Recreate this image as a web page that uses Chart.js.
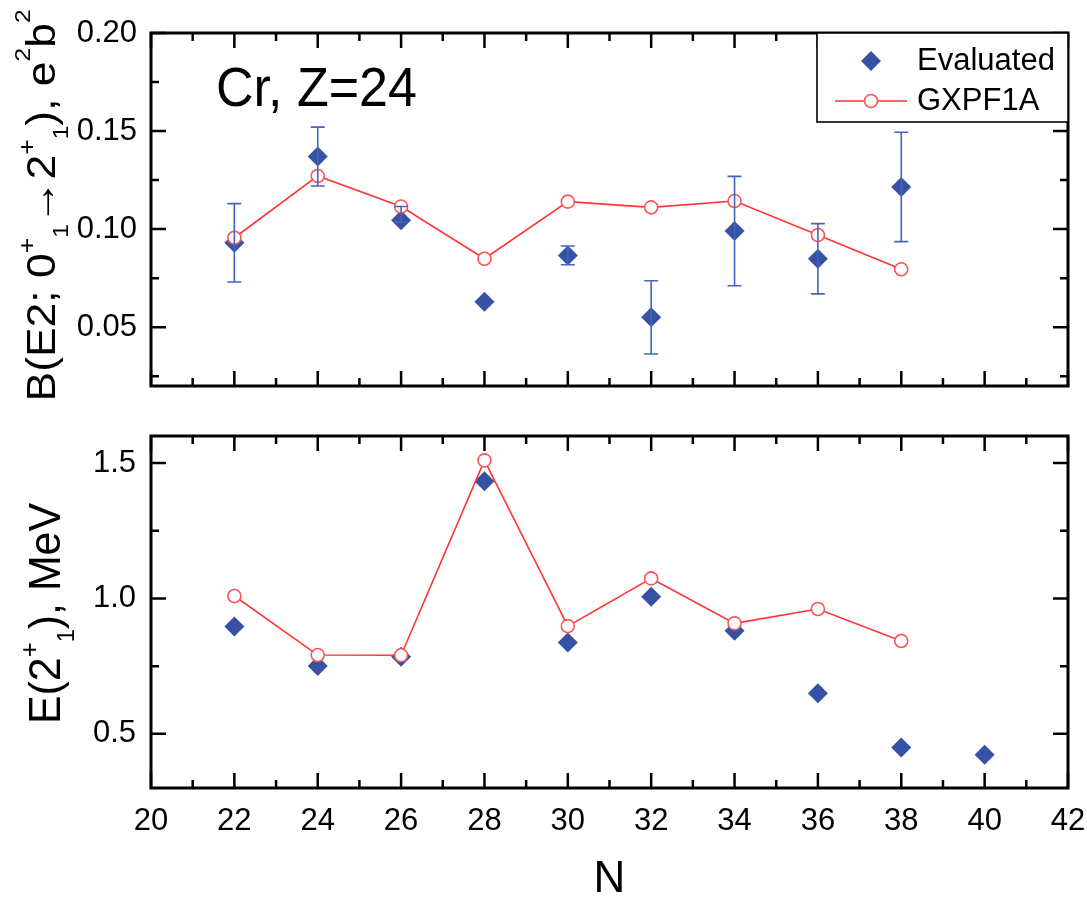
<!DOCTYPE html>
<html><head><meta charset="utf-8">
<script src="https://cdn.jsdelivr.net/npm/chart.js@4.4.0/dist/chart.umd.min.js"></script>
<style>
html,body{margin:0;padding:0;background:#fff;}
#wrap{position:relative;width:1087px;height:899px;overflow:hidden;}
#c1{position:absolute;left:0;top:0;}
#c2{position:absolute;left:0;top:400px;}
</style></head><body>
<div id="wrap"><canvas id="c1" width="1087" height="400"></canvas><canvas id="c2" width="1087" height="499"></canvas></div>
<script>
// ---- data ----
const N_TOP = [22, 24, 26, 28, 30, 32, 34, 36, 38];
const BE2_EVAL   = [0.093, 0.137, 0.1045, 0.063, 0.0866, 0.0550, 0.0990, 0.0849, 0.1215];
const BE2_ERR_UP = [0.020, 0.015, 0.0070, 0.000, 0.0048, 0.0187, 0.0279, 0.0179, 0.0279];
const BE2_ERR_DN = [0.020, 0.015, 0.0010, 0.000, 0.0048, 0.0187, 0.0279, 0.0179, 0.0279];
const BE2_GXPF = [0.0956, 0.1271, 0.1115, 0.0849, 0.1140, 0.1111, 0.1143, 0.0970, 0.0795];
const N_EVAL_E = [22, 24, 26, 28, 30, 32, 34, 36, 38, 40];
const E2_EVAL  = [0.896, 0.751, 0.785, 1.433, 0.837, 1.006, 0.881, 0.650, 0.450, 0.423];
const N_GXPF_E = [22, 24, 26, 28, 30, 32, 34, 36, 38];
const E2_GXPF  = [1.009, 0.791, 0.790, 1.510, 0.898, 1.074, 0.908, 0.961, 0.843];
const X_TICKS = [20, 22, 24, 26, 28, 30, 32, 34, 36, 38, 40, 42];
const X_MINOR = [21, 23, 25, 27, 29, 31, 33, 35, 37, 39, 41];
const TOP_Y_TICKS = [0.05, 0.10, 0.15, 0.20];
const TOP_Y_LABELS = ['0.05', '0.10', '0.15', '0.20'];
const TOP_Y_MINOR = [0.025, 0.075, 0.125, 0.175];
const BOT_Y_TICKS = [0.5, 1.0, 1.5];
const BOT_Y_LABELS = ['0.5', '1.0', '1.5'];
const BOT_Y_MINOR = [0.75, 1.25];
const SERIES_NAMES = ['Evaluated', 'GXPF1A'];

// ---- style ----
const FONT = "'Liberation Sans', Arial, sans-serif";
const BLUE = '#3652a4';
const ERRBLUE = '#4664b8';
const RED = '#ff3434';
const RED2 = '#f95656';
Chart.defaults.color = '#000';
Chart.defaults.font.family = FONT;

function drawRich(ctx, segs, cx, cy, base, targetLen) {
  const ws = segs.map(s => { ctx.font = (base * s[1]) + 'px ' + FONT; return ctx.measureText(s[0]).width + (s[3] || 0) * base; });
  const total = ws.reduce((a, b) => a + b, 0);
  const k = targetLen / total;
  ctx.save();
  ctx.translate(cx, cy);
  ctx.rotate(-Math.PI / 2);
  ctx.scale(k, 1);
  ctx.fillStyle = '#000';
  ctx.textBaseline = 'alphabetic';
  ctx.textAlign = 'left';
  let x = -total / 2;
  segs.forEach((s, i) => {
    ctx.font = (base * s[1]) + 'px ' + FONT;
    ctx.fillText(s[0], x, -s[2] * base);
    x += ws[i];
  });
  ctx.restore();
}

function fixBox(w, h) {
  return s => {
    if (w !== null) s.width = w;
    if (h !== null) s.height = h;
    s.paddingTop = 0; s.paddingBottom = 0; s.paddingLeft = 0; s.paddingRight = 0;
  };
}

const frameTicks = {
  id: 'frameTicks',
  afterDraw(chart, args, o) {
    const {ctx, chartArea: a, scales: {x, y}} = chart;
    ctx.save();
    ctx.strokeStyle = '#000';
    ctx.lineWidth = 2.5;
    ctx.beginPath();
    const xt = (list, len) => list.forEach(v => { const p = x.getPixelForValue(v);
      ctx.moveTo(p, a.bottom); ctx.lineTo(p, a.bottom - len); ctx.moveTo(p, a.top); ctx.lineTo(p, a.top + len); });
    const yt = (list, len) => list.forEach(v => { const p = y.getPixelForValue(v);
      ctx.moveTo(a.left, p); ctx.lineTo(a.left + len, p); ctx.moveTo(a.right, p); ctx.lineTo(a.right - len, p); });
    xt(X_TICKS, 15); xt(X_MINOR, 8);
    yt(o.yMajor, 15); yt(o.yMinor, 8);
    ctx.stroke();
    ctx.lineWidth = 3;
    ctx.strokeRect(a.left, a.top, a.right - a.left, a.bottom - a.top);
    ctx.restore();
  }
};

const yTitle = {
  id: 'yTitle',
  afterDraw(chart, args, o) {
    drawRich(chart.ctx, o.segs, o.cx, o.cy, o.base, o.len);
  }
};

const errorBars = {
  id: 'errorBars',
  afterDatasetsDraw(chart) {
    const {ctx, scales: {x, y}} = chart;
    ctx.save();
    ctx.strokeStyle = ERRBLUE;
    ctx.lineWidth = 1.6;
    ctx.beginPath();
    N_TOP.forEach((n, i) => {
      const eu = BE2_ERR_UP[i], ed = BE2_ERR_DN[i];
      if (!eu && !ed) return;
      const px = x.getPixelForValue(n);
      const p1 = y.getPixelForValue(BE2_EVAL[i] + eu);
      const p2 = y.getPixelForValue(BE2_EVAL[i] - ed);
      ctx.moveTo(px, p1); ctx.lineTo(px, p2);
      ctx.moveTo(px - 7, p1); ctx.lineTo(px + 7, p1);
      ctx.moveTo(px - 7, p2); ctx.lineTo(px + 7, p2);
    });
    ctx.stroke();
    ctx.restore();
  }
};

const legendBox = {
  id: 'legendBox',
  afterDraw(chart) {
    const {ctx, chartArea: a} = chart;
    const ds = chart.data.datasets;
    const w = 251, h = 89;
    const L = a.right - w, T = a.top;
    ctx.save();
    ctx.fillStyle = '#fff';
    ctx.fillRect(L, T, w, h);
    ctx.strokeStyle = '#000';
    ctx.lineWidth = 1.6;
    ctx.strokeRect(L, T, w, h);
    const mx = L + 54;
    ctx.fillStyle = ds[0].backgroundColor;
    ctx.strokeStyle = ds[0].backgroundColor;
    Chart.helpers.drawPoint(ctx, {pointStyle: ds[0].pointStyle, radius: ds[0].pointRadius, rotation: 0, borderWidth: 0}, mx, T + 28);
    ctx.strokeStyle = ds[1].borderColor;
    ctx.lineWidth = ds[1].borderWidth;
    ctx.beginPath(); ctx.moveTo(L + 18, T + 68); ctx.lineTo(L + 90, T + 68); ctx.stroke();
    ctx.fillStyle = '#fff';
    ctx.strokeStyle = ds[1].pointBorderColor;
    ctx.lineWidth = ds[1].pointBorderWidth;
    Chart.helpers.drawPoint(ctx, {pointStyle: 'circle', radius: ds[1].pointRadius, rotation: 0, borderWidth: ds[1].pointBorderWidth}, mx, T + 68);
    ctx.fillStyle = '#000';
    ctx.font = '31px ' + FONT;
    ctx.textBaseline = 'middle';
    ctx.textAlign = 'left';
    ctx.fillText(ds[0].label, L + 100, T + 28);
    ctx.fillText(ds[1].label, L + 100, T + 68);
    ctx.save();
    ctx.translate(216, 106);
    ctx.scale(1, 1.08);
    ctx.font = '52px ' + FONT;
    ctx.textBaseline = 'alphabetic';
    ctx.fillText('Cr, Z=24', 0, 0);
    ctx.restore();
    ctx.restore();
  }
};

function evalSet(xs, ys) {
  return {label: SERIES_NAMES[0], data: xs.map((n, i) => ({x: n, y: ys[i]})), showLine: false,
    pointStyle: 'rectRot', pointRadius: 10, pointHoverRadius: 10, backgroundColor: BLUE, borderColor: BLUE,
    pointBorderWidth: 0, order: 2};
}
function gxSet(xs, ys) {
  return {label: SERIES_NAMES[1], data: xs.map((n, i) => ({x: n, y: ys[i]})), showLine: true,
    borderColor: RED, borderWidth: 1.6, pointStyle: 'circle', pointRadius: 6.5, pointHoverRadius: 6.5,
    pointBackgroundColor: '#fff', pointBorderColor: RED2, pointBorderWidth: 1.6, backgroundColor: '#fff',
    tension: 0, fill: false, order: 1};
}

const tickFont = {size: 31, family: FONT, lineHeight: 1.2};

new Chart(document.getElementById('c1'), {
  type: 'scatter',
  data: {datasets: [evalSet(N_TOP, BE2_EVAL), gxSet(N_TOP, BE2_GXPF)]},
  options: {
    responsive: false, animation: false, events: [],
    layout: {padding: {top: 33, right: 19, bottom: 0, left: 0}},
    plugins: {
      legend: {display: false}, tooltip: {enabled: false},
      frameTicks: {yMajor: TOP_Y_TICKS, yMinor: TOP_Y_MINOR},
      yTitle: {cx: 55, cy: 205.5, base: 41, len: 392,
        segs: [['B(E2; 0', 1, 0], ['+', 0.6, 0.5], ['1', 0.55, -0.32], ['\u2192', 1, 0], ['2', 1, 0],
               ['+', 0.6, 0.5], ['1', 0.55, -0.32], ['), e', 1, 0], ['2', 0.55, 0.62], ['b', 1, 0], ['2', 0.55, 0.62]]}
    },
    scales: {
      x: {type: 'linear', min: 20, max: 42, grid: {display: false, drawTicks: false}, border: {display: false},
          ticks: {display: false}, afterFit: fixBox(null, 14)},
      y: {type: 'linear', min: 0.02, max: 0.20, grid: {display: false, drawTicks: false}, border: {display: false},
          afterBuildTicks: s => { s.ticks = TOP_Y_TICKS.map(v => ({value: v})); },
          ticks: {font: tickFont, padding: 14, color: '#000', callback: (v, i) => TOP_Y_LABELS[i]},
          afterFit: fixBox(151, null)}
    }
  },
  plugins: [frameTicks, errorBars, yTitle, legendBox]
});

new Chart(document.getElementById('c2'), {
  type: 'scatter',
  data: {datasets: [evalSet(N_EVAL_E, E2_EVAL), gxSet(N_GXPF_E, E2_GXPF)]},
  options: {
    responsive: false, animation: false, events: [],
    layout: {padding: {top: 36, right: 19, bottom: 0, left: 0}},
    plugins: {
      legend: {display: false}, tooltip: {enabled: false},
      frameTicks: {yMajor: BOT_Y_TICKS, yMinor: BOT_Y_MINOR},
      yTitle: {cx: 60, cy: 213.5, base: 44, len: 221,
        segs: [['E(2', 1, 0], ['+', 0.6, 0.5], ['1', 0.55, -0.32], ['), MeV', 1, 0]]}
    },
    scales: {
      x: {type: 'linear', min: 20, max: 42, grid: {display: false, drawTicks: false}, border: {display: false},
          afterBuildTicks: s => { s.ticks = X_TICKS.map(v => ({value: v})); },
          ticks: {font: tickFont, padding: 15, color: '#000', maxRotation: 0, autoSkip: false, callback: v => String(v)},
          title: {display: true, text: 'N', color: '#000', font: {size: 44, family: FONT, lineHeight: 0.86}, padding: {top: 0, bottom: 0}},
          afterFit: fixBox(null, 111)},
      y: {type: 'linear', min: 0.3, max: 1.6, grid: {display: false, drawTicks: false}, border: {display: false},
          afterBuildTicks: s => { s.ticks = BOT_Y_TICKS.map(v => ({value: v})); },
          ticks: {font: tickFont, padding: 15, color: '#000', callback: (v, i) => BOT_Y_LABELS[i]},
          afterFit: fixBox(151, null)}
    }
  },
  plugins: [frameTicks, yTitle]
});
</script>
</body></html>
